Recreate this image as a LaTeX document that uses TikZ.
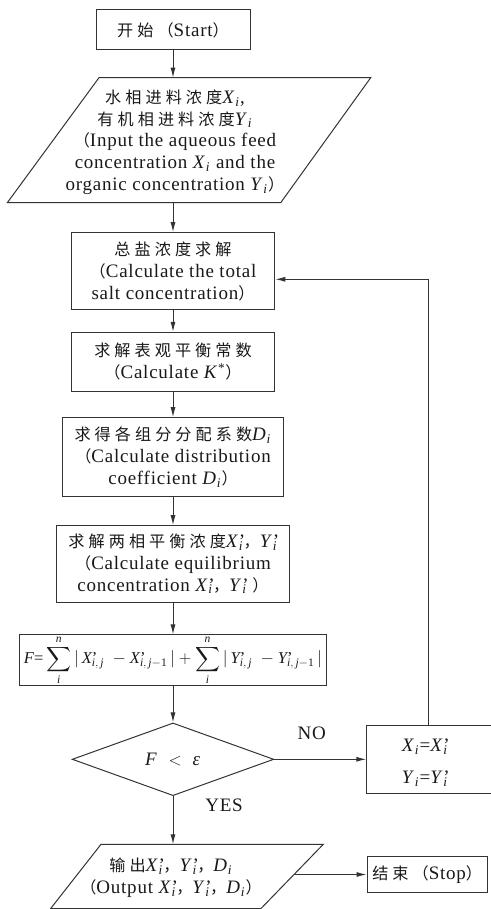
\documentclass[tikz,border=0pt]{standalone}
\usepackage{amsmath}
\usepackage{fontspec}
\setmainfont{Liberation Serif}[LetterSpace=4]
\newfontfamily\cjk[Scale=0.85,LetterSpace=25]{Noto Sans CJK SC}
\usetikzlibrary{arrows.meta,shapes.geometric}
\definecolor{lc}{gray}{0.2}
\definecolor{tc}{gray}{0.1}
\newcommand{\V}[2]{\textit{#1}\textsubscript{\textit{#2}}}
\newcommand{\VP}[2]{\textit{#1}\rlap{’}\textsubscript{\textit{#2}}}
\newcommand{\MP}[2]{\textit{#1}\rlap{’}_{#2}}
\begin{document}
\begin{tikzpicture}[x=1pt,y=-1pt,
  ln/.style={draw=lc,line width=1pt,line join=miter},
  box/.style={ln,rectangle,align=center,inner sep=0pt,text=tc,font=\fontsize{19}{21.7}\selectfont},
  txt/.style={align=center,inner sep=0pt,text=tc,font=\fontsize{19}{21.7}\selectfont},
  arr/.style={draw=lc,line width=1pt,-{Latex[length=10pt,width=5pt]}}]
\useasboundingbox (0,0) rectangle (490,909);
% start
\node[box,minimum width=154pt,minimum height=40pt] (start) at (173,30) {{\cjk 开始（}Start{\cjk ）}};
% input
\draw[ln] (99,77.7) -- (370.7,77.7) -- (280.7,202.7) -- (7.3,202.7) -- cycle;
\coordinate (inTop) at (173,77.7);
\coordinate (inBot) at (173,202.7);
\node[txt] (inp) at (175,142) {{\cjk 水相进料浓度}\V{X}{i},\\{\cjk 有机相进料浓度}\V{Y}{i}\\{\cjk （}Input the aqueous feed\\concentration \V{X}{i} and the\\organic concentration \V{Y}{i}{\cjk ）}};
% boxes
\node[box,minimum width=203.6pt,minimum height=77.3pt] (b3) at (173,271.3) {{\cjk 总盐浓度求解}\\{\cjk （}Calculate the total\\salt concentration{\cjk ）}};
\node[box,minimum width=203.6pt,minimum height=58.7pt] (b4) at (173,361.7) {{\cjk 求解表观平衡常数}\\{\cjk （}Calculate \textit{K}\textsuperscript{*}{\cjk ）}};
\node[box,minimum width=220.4pt,minimum height=79pt] (b5) at (173,457.2) {{\cjk 求得各组分分配系数}\V{D}{i}\\{\cjk （}Calculate distribution\\coefficient \V{D}{i}{\cjk ）}};
\node[box,minimum width=233.3pt,minimum height=76.6pt] (b6) at (173,564) {{\cjk 求解两相平衡浓度}\VP{X}{i}{\cjk ，}\VP{Y}{i}\\{\cjk （}Calculate equilibrium\\concentration \VP{X}{i}{\cjk ，}\VP{Y}{i} {\cjk ）}};
\node[box,minimum width=306.7pt,minimum height=50.7pt,font=\fontsize{16.5}{20}\selectfont] (form) at (173,660.3) {$\textit{F}\text{=}\displaystyle\sum_{\textit{i}}^{\textit{n}}|\,\MP{X}{\textit{i},\,\textit{j}}\ -\MP{X}{\textit{i},\,\textit{j}-\text{1}}\,|+\sum_{\textit{i}}^{\textit{n}}|\,\MP{Y}{\textit{i},\,\textit{j}}\ -\MP{Y}{\textit{i},\,\textit{j}-\text{1}}\,|$};
% decision
\node[ln,diamond,aspect=2.77,minimum width=201.6pt,minimum height=72.7pt,inner sep=0pt,text=tc,font=\fontsize{19}{21.7}\selectfont] (dec) at (173,759.3) {\textit{F}\ \ $<$\ \ \textit{ε}};
% update box
\node[ln,rectangle,minimum width=150pt,minimum height=68pt,anchor=west,inner sep=0pt] (upd) at (366.3,759.3) {};
\node[txt] (updt) at (425,762.5) {\V{X}{i}=\VP{X}{i}\\[10pt]\V{Y}{i}=\VP{Y}{i}};
\coordinate (fbx) at (428.3,0);
\coordinate (fbY) at (0,279.3);
% output
\draw[ln] (101,844.3) -- (323.3,844.3) -- (261,908.5) -- (50.7,908.5) -- cycle;
\coordinate (outTop) at (173,844.3);
\coordinate (outR) at (294.3,874.5);
\node[txt] (outt) at (171,877.7) {{\cjk 输出}\VP{X}{i}{\cjk ，}\VP{Y}{i}{\cjk ，}\V{D}{i}\\{\cjk （}Output \VP{X}{i}{\cjk ，}\VP{Y}{i}{\cjk ，}\V{D}{i}{\cjk ）}};
\node[box,minimum width=120.3pt,minimum height=35.6pt] (stop) at (427.2,874.5) {{\cjk 结束（}Stop{\cjk ）}};
% labels
\node[txt] (no) at (311.7,733.3) {NO};
\node[txt] (yes) at (224,805.7) {YES};
% connectors
\draw[arr] (start.south) -- (inTop);
\draw[arr] (inBot) -- (b3.north);
\draw[arr] (b3.south) -- (b4.north);
\draw[arr] (b4.south) -- (b5.north);
\draw[arr] (b5.south) -- (b6.north);
\draw[arr] (b6.south) -- (form.north);
\draw[arr] (form.south) -- (dec.north);
\draw[arr] (dec.east) -- (upd.west);
\draw[arr] (upd.north -| fbx) |- (b3.east |- fbY);
\draw[arr] (dec.south) -- (outTop);
\draw[arr] (outR) -- (stop.west);
\end{tikzpicture}
\end{document}
